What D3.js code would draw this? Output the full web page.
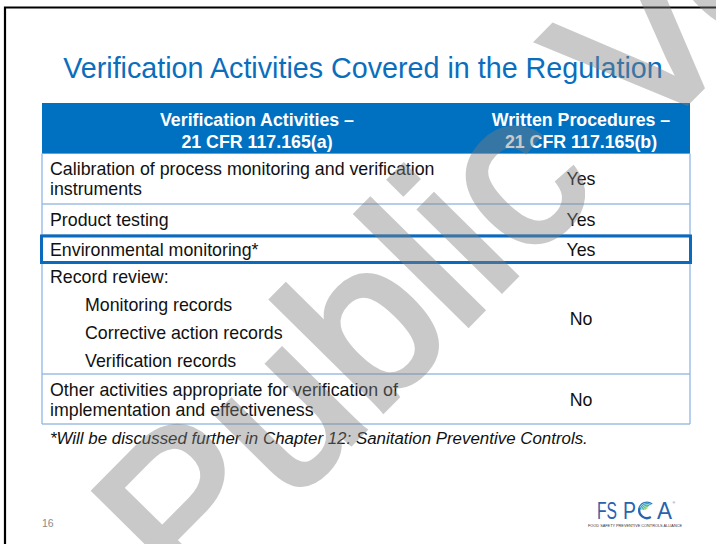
<!DOCTYPE html>
<html><head><meta charset="utf-8">
<script src="https://cdn.jsdelivr.net/npm/d3@7"></script>
<style>html,body{margin:0;padding:0;background:#fff;overflow:hidden}svg{display:block}</style>
</head><body><div id="chart"></div>
<script>
// ---------- data ----------
const title = "Verification Activities Covered in the Regulation";
const headerCol1 = ["Verification Activities –", "21 CFR 117.165(a)"];
const headerCol2 = ["Written Procedures –", "21 CFR 117.165(b)"];
const activities = [
  ["Calibration of process monitoring and verification", "instruments"],
  ["Product testing"],
  ["Environmental monitoring*"],
  ["Record review:"],
  ["Other activities appropriate for verification of", "implementation and effectiveness"]
];
const subItems = [[], [], [], ["Monitoring records", "Corrective action records", "Verification records"], []];
const procedures = ["Yes", "Yes", "Yes", "No", "No"];
const highlightedRow = [false, false, true, false, false];
const footnote = "*Will be discussed further in Chapter 12: Sanitation Preventive Controls.";
const pageNumber = "16";
const watermarkText = "Public Version";
const logoLetters = ["FS", "P", "A"];
const logoTagline = "FOOD SAFETY PREVENTIVE CONTROLS ALLIANCE";

// ---------- layout ----------
const W = 716, H = 544;
const FONT = "'Liberation Sans', Arial, Helvetica, sans-serif";
const L = {
  left: 42, right: 690, split: 472,
  headerTop: 103, headerBottom: 153.5,
  rowHeights: [50.5, 31, 28, 111, 50],
  lineStep: [20, 20, 20, 27.7, 20],
  textPad: 8, indent: 35, fontSize: 17.8
};

const svg = d3.select("#chart").append("svg").attr("width", W).attr("height", H)
  .style("font-family", FONT);
svg.append("rect").attr("width", W).attr("height", H).attr("fill", "#fff");

// slide frame
svg.append("path").attr("d", d3.line()([[5, H + 5], [5, 7.5], [W + 5, 7.5]]))
  .attr("fill", "none").attr("stroke", "#000").attr("stroke-width", 2.2);

// title
svg.append("text").attr("x", 363).attr("y", 77.5).attr("text-anchor", "middle")
  .attr("fill", "#0a6ebd").attr("font-size", 28.7).text(title);

// scales
const rowEdges = [L.headerBottom, ...d3.cumsum(L.rowHeights).map(v => v + L.headerBottom)];
const y = d3.scaleOrdinal().domain(d3.range(activities.length)).range(rowEdges.slice(0, -1));
const rowH = i => L.rowHeights[i];
const colX = d3.scaleOrdinal().domain([0, 1]).range([(L.left + L.split) / 2, (L.split + L.right) / 2]);

// header
svg.append("rect").attr("x", L.left).attr("y", L.headerTop)
  .attr("width", L.right - L.left).attr("height", L.headerBottom - L.headerTop).attr("fill", "#0070c0");
const hdr = svg.append("g").attr("fill", "#fff").attr("font-weight", "bold")
  .attr("font-size", L.fontSize).attr("text-anchor", "middle");
[headerCol1, headerCol2].forEach((lines, c) => {
  hdr.selectAll(null).data(lines).join("text")
    .attr("x", colX(c)).attr("y", (d, i) => 125.7 + i * 22.4).text(d => d);
});

// row separators
const lastEdge = rowEdges[rowEdges.length - 1];
svg.append("g").selectAll("line").data(rowEdges).join("line")
  .attr("x1", L.left).attr("x2", L.right).attr("y1", d => d).attr("y2", d => d)
  .attr("stroke", "#6c9fd6").attr("stroke-width", 1.1);
// side borders
svg.append("g").selectAll("line").data([L.left, L.right]).join("line")
  .attr("x1", d => d).attr("x2", d => d).attr("y1", L.headerBottom).attr("y2", lastEdge)
  .attr("stroke", "#8fb6e3").attr("stroke-width", 1.3);

// highlighted row
svg.append("g").selectAll("rect").data(d3.range(activities.length).filter(i => highlightedRow[i])).join("rect")
  .attr("x", L.left - 0.5).attr("y", i => y(i) + 1).attr("width", L.right - L.left + 1).attr("height", i => rowH(i) - 1.5)
  .attr("fill", "none").attr("stroke", "#0b6abb").attr("stroke-width", 3);

// body text
const body = svg.append("g").attr("font-size", L.fontSize).attr("fill", "#111");
activities.forEach((lines, r) => {
  const all = lines.map(t => ({t, sub: false})).concat(subItems[r].map(t => ({t, sub: true})));
  const n = all.length, step = L.lineStep[r];
  const cy = y(r) + rowH(r) / 2;
  body.selectAll(null).data(all).join("text")
    .attr("x", d => L.left + L.textPad + (d.sub ? L.indent : 0))
    .attr("y", (d, i) => cy + (i - (n - 1) / 2) * step + 6.5)
    .text(d => d.t);
  body.append("text").attr("x", colX(1)).attr("y", cy + 6.6).attr("text-anchor", "middle").text(procedures[r]);
});

// footnote
svg.append("text").attr("x", L.left + L.textPad).attr("y", lastEdge + 20)
  .attr("font-size", 16.9).attr("font-style", "italic").attr("fill", "#111").text(footnote);

// page number
svg.append("text").attr("x", 42).attr("y", 527).attr("font-size", 10.5).attr("fill", "#8a8a8a").text(pageNumber);

// logo
const logo = svg.append("g").attr("transform", "translate(597,519)").attr("fill", "#2a62ad");
logo.append("text").attr("x", 0).attr("y", 0).attr("font-size", 23).attr("textLength", 20)
  .attr("lengthAdjust", "spacingAndGlyphs").text(logoLetters[0]);
logo.append("text").attr("x", 26).attr("y", 0).attr("font-size", 24).attr("textLength", 13)
  .attr("lengthAdjust", "spacingAndGlyphs").text(logoLetters[1]);
const arcG = logo.append("g").attr("transform", "translate(50,-8.6)");
arcG.append("path").attr("d", d3.arc()({innerRadius: 6.6, outerRadius: 8.9, startAngle: -7 * Math.PI / 6, endAngle: -0.4 * Math.PI}))
  .attr("fill", "#2a62ad");
const arcColors = ["#2f7fc0", "#2fa0c4", "#3fb7a8", "#6cc27a", "#a6d05a"];
arcG.selectAll(null).data(arcColors).join("path")
  .attr("d", (d, i) => d3.arc()({innerRadius: 7.7 - i * 1.5, outerRadius: 8.9 - i * 1.5, startAngle: -0.45 * Math.PI, endAngle: 0.22 * Math.PI - i * 0.04 * Math.PI}))
  .attr("fill", d => d);
logo.append("text").attr("x", 60).attr("y", 0).attr("font-size", 24).attr("textLength", 15)
  .attr("lengthAdjust", "spacingAndGlyphs").text(logoLetters[2]);
logo.append("text").attr("x", 75.5).attr("y", -15).attr("font-size", 3.5).text("®");
logo.append("text").attr("x", 38).attr("y", 8).attr("text-anchor", "middle").attr("font-size", 4.2)
  .attr("textLength", 94).attr("lengthAdjust", "spacingAndGlyphs")
  .attr("fill", "#333").text(logoTagline);

// watermark
svg.append("text").attr("transform", "translate(188.3,607.8) rotate(-45.4)")
  .attr("font-size", 216).attr("fill", "#808080").attr("stroke", "#808080").attr("stroke-width", 6)
  .attr("stroke-linejoin", "miter").attr("opacity", 0.42)
  .style("pointer-events", "none").text(watermarkText);
</script></body></html>
